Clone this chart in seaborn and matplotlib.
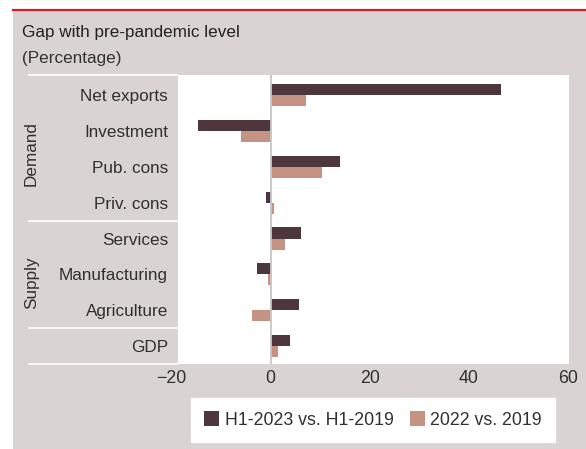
import matplotlib
matplotlib.use("Agg")
import matplotlib.pyplot as plt
import seaborn as sns
import pandas as pd
from matplotlib import font_manager, transforms
from matplotlib.patches import Rectangle, Patch
from matplotlib.lines import Line2D

# ---------------- data ----------------
categories = ["Net exports", "Investment", "Pub. cons", "Priv. cons",
              "Services", "Manufacturing", "Agriculture", "GDP"]
h1_2023_vs_h1_2019 = [46.5, -14.7, 14.0, -1.0, 6.1, -2.8, 5.7, 3.9]
y2022_vs_2019 = [7.1, -6.0, 10.4, 0.7, 2.9, -0.5, -3.8, 1.5]
series_names = ["H1-2023 vs. H1-2019", "2022 vs. 2019"]
group_names = ["Demand", "Supply"]
x_ticks = [-20, 0, 20, 40, 60]

# ---------------- style ----------------
BG = "#d9d3d3"
RED = "#d0202c"
DARK = "#4e373c"
LIGHT = "#c49383"
TEXT = "#303030"

names = {f.name for f in font_manager.fontManager.ttflist}
narrow = "Liberation Sans Narrow" in names
FONT = "Liberation Sans Narrow" if narrow else "Liberation Sans"
S = 1.0 if narrow else 0.85
plt.rcParams["font.family"] = [FONT, "DejaVu Sans"]

W, H = 586, 449
fig = plt.figure(figsize=(W / 100, H / 100), dpi=100)
fig.patch.set_facecolor("white")
fig.patches.append(Rectangle((13 / W, 0), 1 - 13 / W, (H - 10) / H,
                             transform=fig.transFigure, facecolor=BG,
                             edgecolor="none", zorder=-5))
fig.add_artist(Line2D([13 / W, 1], [1 - 9.8 / H, 1 - 9.8 / H],
                      transform=fig.transFigure, color=RED, lw=1.6, zorder=-4))

ax = fig.add_axes([171.7 / W, (H - 364) / H, (569.2 - 171.7) / W, (364 - 75) / H])
ax.set_zorder(2)
ax.set_facecolor(BG)
ax.axvspan(-18.73, 60.3, color="white", zorder=0, lw=0)

df = pd.DataFrame({
    "category": categories * 2,
    "value": h1_2023_vs_h1_2019 + y2022_vs_2019,
    "series": [series_names[0]] * len(categories) + [series_names[1]] * len(categories),
})
sns.barplot(data=df, x="value", y="category", hue="series", orient="h",
            order=categories, hue_order=series_names, palette=[DARK, LIGHT],
            saturation=1, width=0.62, legend=False, ax=ax, zorder=3)

ax.set_xlim(-20, 60.3)
ax.set_ylim(7.5, -0.56)
ax.axvline(0, color="#c6c6c6", lw=1.3, zorder=5)
for sp in ax.spines.values():
    sp.set_visible(False)
ax.set_xticks(x_ticks)
ax.tick_params(axis="both", length=0)
ax.tick_params(axis="x", labelsize=15 * S, pad=4.5, labelcolor=TEXT)
ax.tick_params(axis="y", labelsize=14.5 * S, pad=2.7, labelcolor=TEXT)
ax.set_xlabel("")
ax.set_ylabel("")

trans = transforms.blended_transform_factory(fig.transFigure, ax.transData)
for yv in [-0.56, 3.5, 6.5, 7.5]:
    ax.plot([28 / W, 178 / W], [yv, yv], transform=trans, color="white",
            lw=1.2, clip_on=False, solid_capstyle="butt")
ax.text(31 / W, 1.63, group_names[0], transform=trans, rotation=90,
        ha="center", va="center", fontsize=14.5 * S, color=TEXT)
ax.text(31.5 / W, 5.23, group_names[1], transform=trans, rotation=90,
        ha="center", va="center", fontsize=14.5 * S, color=TEXT)

fig.text(22 / W, 1 - 37.5 / H, "Gap with pre-pandemic level", fontsize=14.5 * S,
         va="baseline", ha="left", color="#222222")
fig.text(22 / W, 1 - 63 / H, "(Percentage)", fontsize=14.5 * S,
         va="baseline", ha="left", color="#333333")

handles = [Patch(facecolor=DARK, edgecolor="none"), Patch(facecolor=LIGHT, edgecolor="none")]
leg = fig.legend(handles, series_names, loc="center",
                 bbox_to_anchor=(373 / W, 1 - 420 / H), ncol=2, frameon=True,
                 fancybox=False, facecolor="white", edgecolor="white", framealpha=1,
                 fontsize=15 * S, handlelength=0.85, handleheight=0.85,
                 handletextpad=0.3, columnspacing=0.9, borderpad=0.75)
for t in leg.get_texts():
    t.set_color(TEXT)

fig.savefig("out.png", dpi=100, facecolor="white")
